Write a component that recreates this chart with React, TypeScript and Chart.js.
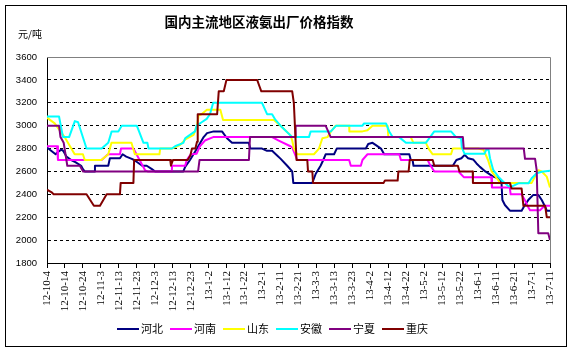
import React, { useEffect, useRef } from 'react';
import { Chart, registerables } from 'chart.js';

Chart.register(...registerables);

// ---- data ----
const titleText = '国内主流地区液氨出厂价格指数';
const unitText = '元/吨';

const dateLabels = [
  '12-10-4', '12-10-14', '12-10-24', '12-11-3', '12-11-13', '12-11-23',
  '12-12-3', '12-12-13', '12-12-23', '13-1-2', '13-1-12', '13-1-22',
  '13-2-1', '13-2-11', '13-2-21', '13-3-3', '13-3-13', '13-3-23',
  '13-4-2', '13-4-12', '13-4-22', '13-5-2', '13-5-12', '13-5-22',
  '13-6-1', '13-6-11', '13-6-21', '13-7-1', '13-7-11',
];

const seriesNames = ['河北', '河南', '山东', '安徽', '宁夏', '重庆'];
const seriesColors = ['#000080', '#FF00FF', '#FFFF00', '#00FFFF', '#800080', '#800000'];

// [day index since 12-10-4, price]
const hebei: [number, number][] = [
  [0, 2810], [4.8, 2750], [6.1, 2770], [8, 2790], [9, 2780], [10.8, 2730], [13.5, 2700],
  [16, 2680], [19, 2650], [20, 2620], [21, 2600], [26.5, 2600], [26.7, 2650], [34.1, 2650],
  [35, 2715], [40.6, 2715], [42.1, 2750], [44.1, 2730], [47.2, 2710], [48.5, 2700],
  [53, 2650], [55.5, 2650], [58.4, 2620], [60.2, 2600], [75.9, 2600], [76.9, 2640],
  [79.6, 2700], [83.5, 2800], [87.2, 2900], [89.1, 2935], [92.8, 2950], [97.4, 2950],
  [100.2, 2890], [103, 2850], [112.3, 2850], [113.2, 2800], [119.7, 2800], [122.5, 2780],
  [125.3, 2780], [128.1, 2740], [130.1, 2710], [133.7, 2650], [136.5, 2600], [137.1, 2500],
  [147.7, 2500], [149.6, 2580], [152.3, 2650], [153.8, 2700], [155.1, 2750], [159.8, 2750],
  [161.3, 2800], [177.5, 2800], [178.8, 2840], [181.2, 2850], [183.1, 2830], [185.9, 2800],
  [187.7, 2750], [201.7, 2750], [202.5, 2700], [203.5, 2700], [204, 2650], [225.9, 2650],
  [227.9, 2700], [230.7, 2715], [232.5, 2745], [234.4, 2715], [237.2, 2705], [239.1, 2670],
  [241, 2640], [244, 2600], [248.4, 2555], [251.2, 2540], [253, 2500], [253.5, 2350],
  [254.9, 2307], [257.7, 2257], [264.2, 2257], [266, 2307], [267.9, 2350], [270.7, 2395],
  [273.5, 2395], [275.4, 2350], [277.3, 2292], [278.2, 2257], [280, 2257],
];

const henan: [number, number][] = [
  [0, 2820], [5.6, 2820], [6.1, 2700], [30.4, 2700], [33.2, 2740], [34.1, 2750], [40.6, 2750],
  [41.2, 2800], [48.1, 2800], [54.6, 2610], [56, 2600], [69.5, 2600], [69.6, 2650],
  [76.9, 2650], [77.8, 2700], [79.6, 2740], [80.5, 2750], [83.3, 2755], [85.1, 2820],
  [87.9, 2870], [92.5, 2900], [125.3, 2900], [129, 2870], [135.5, 2820], [136.5, 2810],
  [139.3, 2700], [168.2, 2700], [169.1, 2650], [174.7, 2650], [175.6, 2700], [178.4, 2750],
  [196.1, 2750], [197, 2700], [211.9, 2700], [212.8, 2670], [215.6, 2600], [229, 2600],
  [232, 2550], [247.3, 2550], [247.7, 2460], [257.6, 2460], [258.1, 2400], [264.1, 2400],
  [266, 2350], [267.8, 2290], [268.9, 2260], [274.4, 2260], [276.3, 2290], [277.2, 2300],
  [280, 2300],
];

const shandong: [number, number][] = [
  [0, 3070], [4.3, 3020], [9.8, 2900], [15.4, 2750], [20, 2750], [21, 2700], [30.2, 2700],
  [34.1, 2750], [35.9, 2850], [47, 2850], [48.9, 2750], [62.6, 2750], [63, 2800],
  [69.5, 2800], [74, 2830], [77, 2880], [81.6, 2920], [83.5, 3000], [84.4, 3090], [86, 3100],
  [89, 3140], [96.5, 3140], [98, 3050], [126.3, 3050], [130, 3000], [135.6, 2915],
  [136.5, 2870], [137.4, 2800], [139.3, 2750], [148.6, 2750], [151.4, 2800], [153.3, 2890],
  [156.1, 2900], [157.9, 2945], [160.7, 3000], [168.2, 3000], [168.3, 2950], [175.6, 2950],
  [178.4, 2960], [181.2, 3000], [189.6, 3000], [190, 2900], [202.5, 2900], [204, 2850],
  [210.9, 2850], [212.8, 2790], [214.7, 2750], [224.9, 2750], [225.9, 2800], [240, 2800],
  [243, 2790], [245.5, 2700], [247.5, 2600], [251.2, 2525], [252.1, 2500], [269.8, 2500],
  [273.5, 2610], [275.4, 2600], [278.2, 2555], [280, 2460],
];

const anhui: [number, number][] = [
  [0, 3080], [6.7, 3080], [8.9, 2900], [12.3, 2900], [15.5, 3040], [17.3, 3030], [22, 2800],
  [30.4, 2800], [34.1, 2850], [36, 2950], [39.7, 2950], [41.6, 3000], [50, 3000],
  [53.7, 2850], [55.9, 2850], [56.5, 2800], [69.5, 2800], [71.3, 2820], [75.9, 2850],
  [76.9, 2890], [77.8, 2900], [82.4, 2950], [83.3, 3000], [86.1, 3030], [88.9, 3060],
  [90.7, 3100], [92.5, 3200], [119.7, 3200], [122.5, 3100], [125.3, 3100], [127.2, 3050],
  [130, 3000], [136.5, 2900], [145.8, 2900], [146.8, 2950], [158, 2950], [161, 3000],
  [175.6, 3000], [176.5, 3020], [188.7, 3020], [190.5, 2950], [192.4, 2900], [196, 2900],
  [199.8, 2850], [210.9, 2850], [215.6, 2950], [224.9, 2950], [227.7, 2900], [230.5, 2890],
  [230.9, 2810], [232.4, 2755], [243.6, 2755], [244.5, 2790], [245.8, 2790], [246.6, 2715],
  [248.4, 2613], [251.2, 2554], [254, 2510], [256.8, 2473], [258.6, 2467], [262.4, 2496],
  [268, 2496], [269.8, 2540], [272.6, 2584], [275.4, 2598], [280, 2607],
];

const ningxia: [number, number][] = [
  [0, 3000], [6.7, 3000], [7.5, 2900], [9.3, 2850], [10.8, 2700], [11.3, 2650], [18.3, 2650],
  [20.1, 2600], [84.1, 2600], [84.9, 2700], [112.4, 2700], [113, 2900], [138.3, 2900],
  [138.4, 3000], [155.1, 3000], [157.9, 2900], [231.5, 2900], [232, 2800], [265.4, 2800],
  [266.1, 2710], [271.7, 2710], [272.6, 2610], [273.5, 2060], [279, 2060], [280, 2000],
];

const chongqing: [number, number][] = [
  [0, 2440], [2.4, 2420], [3.7, 2400], [22, 2400], [26.1, 2300], [29.5, 2300], [33.2, 2400],
  [40.6, 2400], [41, 2500], [48.1, 2500], [48.5, 2700], [68.6, 2700], [69, 2650], [70.1, 2700],
  [78.3, 2700], [79.8, 2740], [80.7, 2800], [82.6, 2800], [83.5, 2860], [83.9, 3100],
  [94.7, 3100], [95.6, 3300], [98.4, 3300], [99.9, 3400], [117, 3400], [117.9, 3360],
  [119.3, 3300], [136.5, 3300], [137.4, 3200], [138.9, 2700], [144.9, 2700], [145.3, 2600],
  [147.7, 2600], [148.1, 2500], [187.4, 2500], [188.1, 2520], [195.2, 2520], [195.6, 2600],
  [201.3, 2600], [201.9, 2700], [214.7, 2700], [215.6, 2650], [228.7, 2650], [229.6, 2600],
  [237, 2600], [237.1, 2500], [257.7, 2500], [258.6, 2450], [264.2, 2450], [265.2, 2300],
  [277.3, 2300], [278.2, 2200], [280, 2200],
];

const seriesData = [hebei, henan, shandong, anhui, ningxia, chongqing];

const yMin = 1800;
const yMax = 3600;
const yStep = 200;
const xMax = 280;
const xStep = 10;

const CJK = '"Noto Sans CJK SC", "Noto Sans", sans-serif';

const decorPlugin = {
  id: 'decor',
  beforeDatasetsDraw(chart: any) {
    const { ctx, chartArea: a } = chart;
    ctx.save();
    ctx.strokeStyle = '#808080';
    ctx.lineWidth = 1;
    ctx.beginPath();
    ctx.moveTo(a.left, a.top + 0.5);
    ctx.lineTo(a.right + 0.5, a.top + 0.5);
    ctx.lineTo(a.right + 0.5, a.bottom);
    ctx.stroke();
    ctx.restore();
  },
  afterDraw(chart: any) {
    const { ctx } = chart;
    ctx.save();
    // outer frame
    ctx.strokeStyle = '#000';
    ctx.lineWidth = 1;
    ctx.strokeRect(5.5, 5.5, 561, 341);
    // title
    ctx.fillStyle = '#000';
    ctx.font = `bold 13.5px ${CJK}`;
    ctx.textAlign = 'center';
    ctx.textBaseline = 'middle';
    ctx.fillText(titleText, 259, 22);
    // unit
    ctx.font = `10px ${CJK}`;
    ctx.textAlign = 'left';
    ctx.fillText(unitText, 18, 34);
    // legend
    ctx.font = `11px ${CJK}`;
    ctx.textBaseline = 'middle';
    chart.data.datasets.forEach((ds: any, i: number) => {
      const x0 = 117 + i * 53;
      const y0 = 329;
      ctx.strokeStyle = ds.borderColor;
      ctx.lineWidth = 2;
      ctx.beginPath();
      ctx.moveTo(x0, y0);
      ctx.lineTo(x0 + 22, y0);
      ctx.stroke();
      ctx.fillStyle = '#000';
      ctx.fillText(ds.label, x0 + 24, y0);
    });
    ctx.restore();
  },
};

export default function App() {
  const ref = useRef<HTMLCanvasElement | null>(null);

  useEffect(() => {
    if (!ref.current) return;
    const chart = new Chart(ref.current, {
      type: 'line',
      data: {
        datasets: seriesData.map((s, i) => ({
          label: seriesNames[i],
          data: s.map(([x, y]) => ({ x, y })),
          borderColor: seriesColors[i],
          backgroundColor: seriesColors[i],
          borderWidth: 2,
          borderJoinStyle: 'round' as const,
          pointRadius: 0,
          pointHoverRadius: 0,
          tension: 0,
          fill: false,
          order: seriesData.length - i,
        })),
      },
      options: {
        responsive: false,
        animation: false,
        events: [],
        layout: { padding: { left: 5, top: 57, right: 23, bottom: 35 } },
        plugins: {
          legend: { display: false },
          tooltip: { enabled: false },
          title: { display: false },
        },
        scales: {
          x: {
            type: 'linear',
            min: 0,
            max: xMax,
            afterFit: (s: any) => { s.height = 55; },
            ticks: {
              stepSize: xStep,
              autoSkip: false,
              maxRotation: 90,
              minRotation: 90,
              padding: 3,
              color: '#000',
              font: { family: '"Liberation Serif", serif', size: 11 },
              callback: (v: any) => dateLabels[Math.round(Number(v) / xStep)] ?? '',
            },
            grid: {
              drawOnChartArea: false,
              drawTicks: true,
              tickLength: 5,
              tickColor: '#000',
            },
            border: { color: '#000', width: 1 },
          },
          y: {
            type: 'linear',
            min: yMin,
            max: yMax,
            afterFit: (s: any) => { s.width = 42; },
            ticks: {
              stepSize: yStep,
              padding: 10,
              color: '#000',
              font: { family: '"Liberation Sans", Arial, sans-serif', size: 9.5 },
              callback: (v: any) => String(v),
            },
            grid: {
              drawTicks: false,
              color: (c: any) =>
                c.tick && (c.tick.value === yMin || c.tick.value === yMax) ? 'rgba(0,0,0,0)' : '#000',
              lineWidth: 1,
            },
            border: { color: '#000', width: 1, dash: [3, 3] },
          },
        },
      },
      plugins: [decorPlugin],
    });
    return () => chart.destroy();
  }, []);

  return (
    <div style={{ position: 'absolute', left: 0, top: 0, width: 573, height: 353, background: '#fff' }}>
      <canvas ref={ref} width={573} height={353} />
    </div>
  );
}
